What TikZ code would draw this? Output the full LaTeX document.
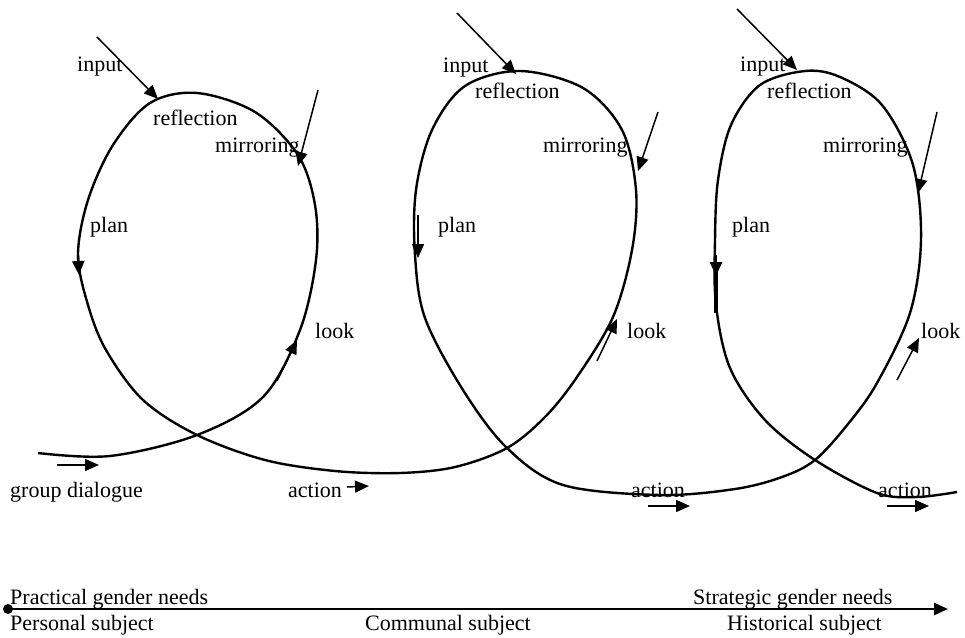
\documentclass[tikz,border=0pt]{standalone}
\usepackage{fontspec}
\setmainfont{Liberation Serif}
\usetikzlibrary{arrows.meta}
\begin{document}
\begin{tikzpicture}[x=1pt,y=-1pt,
  lbl/.style={anchor=base west,inner sep=0pt,font=\fontsize{22}{26}\selectfont},
  spiral/.style={line width=2.4pt,line join=round},
  arr/.style={line width=1.5pt,-{Triangle[length=14pt,width=12pt]}},
  tip/.style={line width=2.4pt,-{Triangle[length=14pt,width=12pt]}},
  axis/.style={line width=2.4pt,-{Triangle[length=14pt,width=12pt]}}]
\useasboundingbox (0,0) rectangle (965,637);

% spiral
\draw[spiral] plot[smooth,tension=0.55] coordinates {
 (38,453) (110,456) (197,435) (263,397) (300,330) (316,260) (315,205)
 (298,155) (255,112) (197,93) (150,103) (113,145) (88,200) (78,255)
 (88,305) (106,350) (143,400) (197,435) (265,460) (335,471) (400,473)
 (455,467) (507,448) (545,417) (577,377) (613,317) (632,250) (636,190) (622,130)
 (583,88) (520,71) (465,86) (432,130) (416,190) (415,255) (425,318)
 (463,390) (507,448) (563,485) (660,495)
 (735,489) (782,477) (815,460) (848,424) (877,383) (910,313) (921,240) (913,165) (882,105)
 (840,77) (805,71) (760,85) (731,125) (718,180) (715,240) (716,305)
 (730,368) (765,420) (815,460) (877,493) (917,497) (957,492)};

% arrow end points
\coordinate (in1s) at (97,37);   \coordinate (in1e) at (158,99);
\coordinate (mi1s) at (318,90);  \coordinate (mi1e) at (298,166);
\coordinate (pl1s) at (78,255);  \coordinate (pl1e) at (79,275);
\coordinate (lo1s) at (277,381); \coordinate (lo1e) at (297,340);
\coordinate (gds) at (57,465);   \coordinate (gde) at (99,465);
\coordinate (ac1s) at (347,487); \coordinate (ac1e) at (369,486);

\coordinate (in2s) at (457,13);  \coordinate (in2e) at (516,74);
\coordinate (mi2s) at (658,112); \coordinate (mi2e) at (638,171);
\coordinate (pl2s) at (418,215); \coordinate (pl2e) at (418,258);
\coordinate (lo2s) at (597,361); \coordinate (lo2e) at (617,319);
\coordinate (ac2s) at (648,506); \coordinate (ac2e) at (690,506);

\coordinate (in3s) at (737,9);   \coordinate (in3e) at (797,70);
\coordinate (mi3s) at (937,112); \coordinate (mi3e) at (918,193);
\coordinate (pl3s) at (716,255); \coordinate (pl3e) at (716,276);
\coordinate (lo3s) at (897,380); \coordinate (lo3e) at (919,338);
\coordinate (ac3s) at (887,506); \coordinate (ac3e) at (929,506);

\foreach \a in {in1,mi1,lo1,gd,ac1,in2,mi2,pl2,lo2,ac2,in3,mi3,lo3,ac3}
  \draw[arr] (\a s) -- (\a e);
\draw[tip] (pl1s) -- (pl1e);
\draw[tip] (pl3s) -- (pl3e);
\draw[line width=3.2pt] (716,272) -- (716,313);

% labels loop 1
\node[lbl] (tin1) at (77,71) {input};
\node[lbl] (tre1) at (153,125) {reflection};
\node[lbl] (tmi1) at (215,152) {mirroring};
\node[lbl] (tpl1) at (90,232) {plan};
\node[lbl] (tlo1) at (315,338) {look};
\node[lbl] (tgd) at (10,497) {group dialogue};
\node[lbl] (tac1) at (288,497) {action};
% loop 2
\node[lbl] (tin2) at (443,72) {input};
\node[lbl] (tre2) at (475,98) {reflection};
\node[lbl] (tmi2) at (543,152) {mirroring};
\node[lbl] (tpl2) at (438,232) {plan};
\node[lbl] (tlo2) at (627,338) {look};
\node[lbl] (tac2) at (631,497) {action};
% loop 3
\node[lbl] (tin3) at (740,71) {input};
\node[lbl] (tre3) at (767,98) {reflection};
\node[lbl] (tmi3) at (823,152) {mirroring};
\node[lbl] (tpl3) at (732,232) {plan};
\node[lbl] (tlo3) at (921,338) {look};
\node[lbl] (tac3) at (878,497) {action};

% axis
\coordinate (axs) at (8,609);
\coordinate (axe) at (948,609);
\fill (axs) circle (5);
\draw[axis] (axs) -- (axe);
\node[lbl] (tpg) at (10,604) {Practical gender needs};
\node[lbl] (tps) at (10,630) {Personal subject};
\node[lbl] (tcs) at (365,630) {Communal subject};
\node[lbl] (tsg) at (693,604) {Strategic gender needs};
\node[lbl] (ths) at (727,630) {Historical subject};
\end{tikzpicture}
\end{document}
